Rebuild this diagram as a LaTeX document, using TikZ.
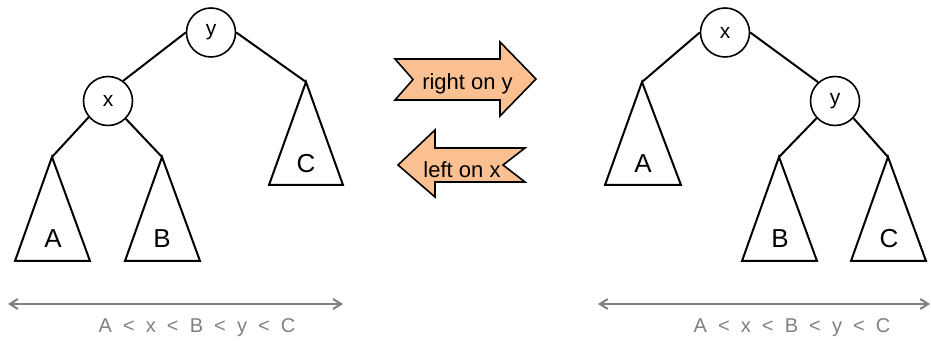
\documentclass[tikz,border=0pt]{standalone}
\usepackage{fontspec}
\setmainfont{Liberation Sans}
\usetikzlibrary{arrows.meta}
\definecolor{rotfill}{RGB}{251,192,145}
\definecolor{ordgray}{RGB}{128,128,128}
\begin{document}
\begin{tikzpicture}[x=.5pt,y=-.5pt,line width=1pt,
  key/.style={circle,draw,line width=.8pt,minimum size=24.5pt,inner sep=0pt,font=\fontsize{10.5}{12}\selectfont},
  sub/.style={font=\fontsize{13}{15}\selectfont},
  rot/.style={fill=rotfill,draw,line width=.8pt,line join=miter},
  rottext/.style={anchor=base,font=\fontsize{11}{13}\selectfont},
  order/.style={draw=ordgray,line width=1pt,{Straight Barb[length=4pt,width=5pt]}-{Straight Barb[length=4pt,width=5pt]}},
  ordtext/.style={anchor=base,text=ordgray,font=\fontsize{10}{12}\selectfont}]
\useasboundingbox (0,0) rectangle (931,341);
\node[key] (y1) at (211,32.5) {y};
\node[key] (x1) at (108,101) {x};
\coordinate (A1) at (52,157);
\coordinate (B1) at (162,157);
\coordinate (C1) at (306,82);
\draw (A1) -- ++(-37,104) -- ++(75,0) -- cycle;
\draw (B1) -- ++(-37,104) -- ++(75,0) -- cycle;
\draw (C1) -- ++(-37,103) -- ++(74,0) -- cycle;
\node[sub] (a1) at (53,239) {A};
\node[sub] (b1) at (162,239) {B};
\node[sub] (c1) at (306,164) {C};
\draw (y1.west) -- (x1.53);
\draw (y1.east) -- (C1);
\draw (x1.220) -- (A1);
\draw (x1.315) -- (B1);
\node[key] (x2) at (725,32.5) {x};
\node[key] (y2) at (835,101) {y};
\coordinate (A2) at (642,82);
\coordinate (B2) at (779,157);
\coordinate (C2) at (888,157);
\draw (A2) -- ++(-37,103) -- ++(76,0) -- cycle;
\draw (B2) -- ++(-37,104) -- ++(75,0) -- cycle;
\draw (C2) -- ++(-37,104) -- ++(75,0) -- cycle;
\node[sub] (a2) at (643,164) {A};
\node[sub] (b2) at (780,239) {B};
\node[sub] (c2) at (889,239) {C};
\draw (x2.west) -- (A2);
\draw (x2.east) -- (y2.132);
\draw (y2.223) -- (B2);
\draw (y2.317) -- (C2);
\draw[rot] (395,59) -- (500,59) -- (500,42) -- (536,79) -- (500,116) -- (500,100) -- (395,100) -- (413,79.5) -- cycle;
\node[rottext] (right) at (467.5,90) {right on y};
\draw[rot] (525,148) -- (435,148) -- (435,130) -- (398,165) -- (435,197) -- (435,182) -- (525,182) -- (503,165) -- cycle;
\node[rottext] (left) at (462,178) {left on x};
\coordinate (L0) at (8,304);
\coordinate (L1) at (343,304);
\coordinate (R0) at (598,304);
\coordinate (R1) at (930,304);
\draw[order] (L0) -- (L1);
\draw[order] (R0) -- (R1);
\node[ordtext] (ord1) at (197,333) {A~~<~~x~~<~~B~~<~~y~~<~~C};
\node[ordtext] (ord2) at (792,333) {A~~<~~x~~<~~B~~<~~y~~<~~C};
\end{tikzpicture}
\end{document}
